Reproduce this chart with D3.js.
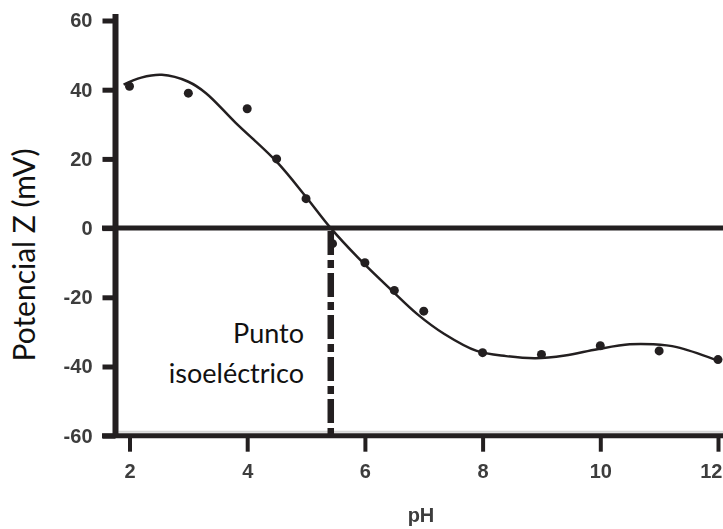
<!DOCTYPE html>
<html>
<head>
<meta charset="utf-8">
<script src="https://cdn.jsdelivr.net/npm/d3@7"></script>
<style>
  html, body { margin: 0; padding: 0; background: #fff; }
  svg { display: block; }
</style>
</head>
<body>
<div id="chart"></div>
<script>
// Potencial Z frente a pH, con el punto isoeléctrico marcado

const phTicks = [2, 4, 6, 8, 10, 12];
const mvTicks = [60, 40, 20, 0, -20, -40, -60];

// puntos medidos
const measuredPH = [2, 3, 4, 4.5, 5, 5.45, 6, 6.5, 7, 8, 9, 10, 11, 12];
const measuredMV = [41, 39, 34.5, 20, 8.5, -4.5, -10, -18, -24, -36, -36.5, -34, -35.5, -38];

// curva ajustada
const fitPH = [1.9, 2.2, 2.55, 3.0, 3.3, 3.8, 4.5, 5.0, 5.42, 5.95, 6.45, 6.9, 7.35, 7.9, 8.4, 8.9, 9.4, 9.95, 10.5, 10.9, 11.3, 11.95];
const fitMV = [41.5, 43.5, 44.3, 42.3, 39, 30.5, 19.2, 9, 0, -9.7, -17.9, -25, -30.6, -35.5, -37, -37.6, -36.8, -35, -33.6, -33.6, -34.4, -38];

const isoPH = 5.42;
const labelLines = ['Punto', 'isoeléctrico'];

const width = 723, height = 529;
const ink = '#231f20';

const svg = d3.select('#chart').append('svg')
    .attr('width', width)
    .attr('height', height);

const defs = svg.append('defs');
defs.append('filter').attr('id', 'soft')
    .append('feGaussianBlur').attr('stdDeviation', 0.7);

const x = d3.scaleLinear().domain([2, 12]).range([129.5, 718]);
const y = d3.scaleLinear().domain([-60, 60]).range([435.7, 20.5]);
const axisX = 115.5;

function tickStyle(sel) {
    sel.attr('fill', '#3c3c3c')
        .attr('font-family', 'Liberation Sans, Arial, sans-serif')
        .attr('font-weight', 'bold')
        .attr('font-size', 20)
        .attr('filter', 'url(#soft)');
}

// eje Y
const gy = svg.append('g')
    .attr('transform', `translate(${axisX},0)`)
    .call(d3.axisLeft(y).tickValues(mvTicks).tickSize(13).tickPadding(10).tickFormat(d => String(d)));
gy.select('.domain').remove();
gy.selectAll('.tick line').attr('stroke', ink).attr('stroke-width', 5);
gy.selectAll('.tick text').call(tickStyle);

// eje X
const gx = svg.append('g')
    .attr('transform', `translate(0,${y(-60)})`)
    .call(d3.axisBottom(x).tickValues(phTicks).tickSize(16).tickPadding(12));
gx.select('.domain').remove();
gx.selectAll('.tick line').attr('stroke', ink).attr('stroke-width', 4);
gx.selectAll('.tick text').call(tickStyle);
// la última etiqueta queda pegada al borde
gx.selectAll('.tick text').filter(d => d === 12)
    .attr('text-anchor', 'end')
    .attr('x', width - x(12) - 1);

// líneas de los ejes
svg.append('line')
    .attr('x1', axisX + 3).attr('x2', width)
    .attr('y1', y(-60) - 4).attr('y2', y(-60) - 4)
    .attr('stroke', '#d4d4d4').attr('stroke-width', 2);
svg.append('line')
    .attr('x1', 102).attr('x2', width)
    .attr('y1', y(-60)).attr('y2', y(-60))
    .attr('stroke', ink).attr('stroke-width', 5);
svg.append('line')
    .attr('x1', axisX).attr('x2', axisX)
    .attr('y1', y(60) - 6.5).attr('y2', y(-60))
    .attr('stroke', ink).attr('stroke-width', 6);
// línea de cero
svg.append('line')
    .attr('x1', 102).attr('x2', width)
    .attr('y1', y(0)).attr('y2', y(0))
    .attr('stroke', ink).attr('stroke-width', 5);

// punto isoeléctrico
svg.append('line')
    .attr('x1', x(isoPH)).attr('x2', x(isoPH))
    .attr('y1', y(0) + 3).attr('y2', y(-60))
    .attr('stroke', ink).attr('stroke-width', 6.5)
    .attr('stroke-dasharray', '24,5,8,5');

// curva ajustada
const fit = fitPH.map((p, i) => [p, fitMV[i]]);
svg.append('path')
    .datum(fit)
    .attr('fill', 'none')
    .attr('stroke', ink)
    .attr('stroke-width', 2.5)
    .attr('d', d3.line().x(d => x(d[0])).y(d => y(d[1])).curve(d3.curveCatmullRom.alpha(0.5)));

// puntos
svg.selectAll('circle.pt')
    .data(measuredPH.map((p, i) => [p, measuredMV[i]]))
    .enter()
    .append('circle')
    .attr('class', 'pt')
    .attr('cx', d => x(d[0]))
    .attr('cy', d => y(d[1]))
    .attr('r', 4.5)
    .attr('fill', ink);

// etiqueta del punto isoeléctrico
svg.selectAll('text.iso')
    .data(labelLines)
    .enter()
    .append('text')
    .attr('class', 'iso')
    .attr('x', 304)
    .attr('y', (d, i) => 343 + i * 40)
    .attr('text-anchor', 'end')
    .attr('font-family', 'Lato, "Open Sans", sans-serif')
    .attr('font-size', 27)
    .attr('fill', '#111')
    .text(d => d);

// títulos de ejes
svg.append('text')
    .attr('transform', 'translate(35,255) rotate(-90)')
    .attr('text-anchor', 'middle')
    .attr('font-family', 'Lato, "Open Sans", sans-serif')
    .attr('font-size', 30)
    .attr('fill', '#111')
    .text('Potencial Z (mV)');

svg.append('text')
    .attr('x', 421)
    .attr('y', 522)
    .attr('text-anchor', 'middle')
    .attr('font-family', 'Liberation Sans, Arial, sans-serif')
    .attr('font-weight', 'bold')
    .attr('font-size', 20)
    .attr('fill', '#3c3c3c')
    .attr('filter', 'url(#soft)')
    .text('pH');
</script>
</body>
</html>
